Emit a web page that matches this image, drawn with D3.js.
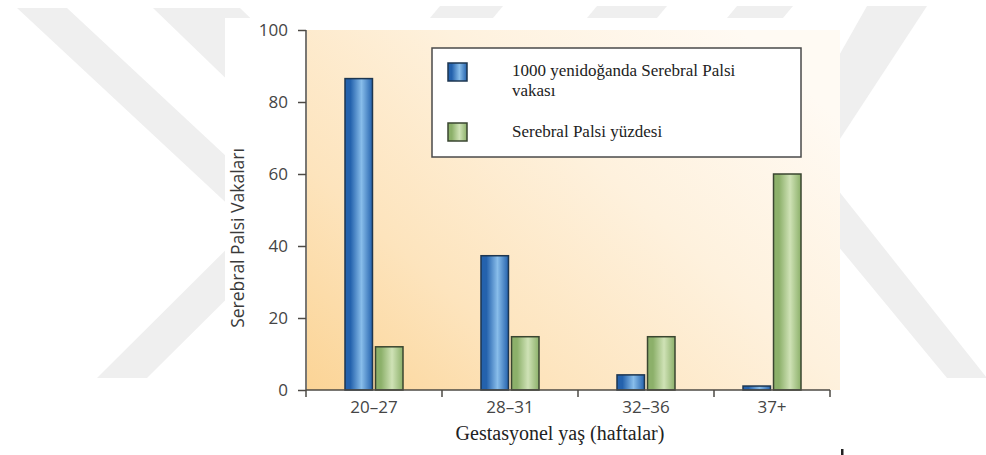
<!DOCTYPE html>
<html>
<head>
<meta charset="utf-8">
<script src="https://cdn.jsdelivr.net/npm/d3@7"></script>
<style>
  html, body { margin: 0; padding: 0; background: #fff; }
  svg { display: block; }
</style>
</head>
<body>
<svg id="chart" width="986" height="455"></svg>
<script>
// Gestational age groups and the two series shown per group
const categories = ["20\u201327", "28\u201331", "32\u201336", "37+"];
const seriesNames = ["1000 yenido\u011fanda Serebral Palsi vakas\u0131", "Serebral Palsi y\u00fczdesi"];
const casesPer1000 = [86.5, 37.3, 4.2, 1.1];
const percentCP = [12, 14.8, 14.8, 60];
const yTicks = [0, 20, 40, 60, 80, 100];
const yTitle = "Serebral Palsi Vakalar\u0131";
const xTitle = "Gestasyonel ya\u015f (haftalar)";

const svg = d3.select("#chart");
const defs = svg.append("defs");

// ---- faint background emblem ----
const wm = svg.append("g").attr("fill", "#efefef");
const wmShapes = [
  [[17, 8], [67, 8], [300, 225], [250, 225]],
  [[153, 8], [240, 8], [300, 66], [300, 150]],
  [[97, 378], [147, 378], [300, 226], [300, 176]],
  [[440, 6], [503, 6], [493, 18], [430, 18]],
  [[597, 6], [667, 6], [657, 18], [587, 18]],
  [[737, 6], [793, 6], [783, 18], [727, 18]],
  [[867, 6], [927, 6], [800, 200], [780, 160]],
  [[800, 200], [830, 180], [987, 378], [947, 378]]
];
wm.selectAll("polygon").data(wmShapes).join("polygon")
  .attr("points", d => d.map(p => p.join(",")).join(" "));

// white sheet behind the chart
svg.append("rect").attr("x", 225).attr("y", 18).attr("width", 615).attr("height", 437).attr("fill", "#fff");

// ---- scales ----
const plot = { left: 306, right: 850, axisEnd: 830, top: 30, bottom: 390 };
const x = d3.scaleBand().domain(categories).range([plot.left, plot.right]).paddingInner(0).paddingOuter(0);
const groupCenter = c => (x(c) + Math.min(x(c) + x.bandwidth(), plot.axisEnd)) / 2;
const xInner = d3.scaleBand().domain([0, 1]).range([-29, 29]).paddingInner(0.1);
const y = d3.scaleLinear().domain([0, 100]).range([plot.bottom, plot.top]);

// ---- panel background ----
const pg = defs.append("linearGradient").attr("id", "panelGrad")
  .attr("x1", 0).attr("y1", 1).attr("x2", 1).attr("y2", 0.25);
[[0, "#fbd496"], [0.3, "#fde4bd"], [0.65, "#fef1dd"], [1, "#fffaf3"]]
  .forEach(([o, c]) => pg.append("stop").attr("offset", o).attr("stop-color", c));
svg.append("rect")
  .attr("x", plot.left + 1).attr("y", plot.top)
  .attr("width", 840 - plot.left - 1).attr("height", plot.bottom - plot.top)
  .attr("fill", "url(#panelGrad)");

// ---- bar gradients ----
function barGradient(id, edge, mid) {
  const g = defs.append("linearGradient").attr("id", id).attr("x1", 0).attr("x2", 1).attr("y1", 0).attr("y2", 0);
  [[0, edge], [0.2, edge], [0.6, mid], [1, edge]]
    .forEach(([o, c]) => g.append("stop").attr("offset", o).attr("stop-color", c));
}
barGradient("blueGrad", "#2462ad", "#88bdea");
barGradient("greenGrad", "#8cb06a", "#cfe2b6");
const fills = ["url(#blueGrad)", "url(#greenGrad)"];
const strokes = ["#1d3650", "#3a4630"];

// ---- bars ----
const seriesValues = [casesPer1000, percentCP];
const barData = [];
categories.forEach((c, i) => seriesValues.forEach((vals, s) => barData.push({ c, s, v: vals[i] })));
svg.append("g").selectAll("rect").data(barData).join("rect")
  .attr("x", d => groupCenter(d.c) + xInner(d.s))
  .attr("width", xInner.bandwidth())
  .attr("y", d => y(d.v))
  .attr("height", d => y(0) - y(d.v))
  .attr("fill", d => fills[d.s])
  .attr("stroke", d => strokes[d.s])
  .attr("stroke-width", 1.5);

// ---- y axis ----
const axisColor = "#4d4a45";
const yAxis = svg.append("g").attr("transform", `translate(${plot.left},0)`)
  .call(d3.axisLeft(y).tickValues(yTicks).tickSize(8).tickSizeOuter(0).tickPadding(10));
yAxis.select(".domain").remove();
yAxis.selectAll(".tick line").attr("stroke", axisColor).attr("stroke-width", 1.5);
yAxis.selectAll(".tick text")
  .attr("font-family", "'Open Sans', sans-serif").attr("font-size", 17).attr("fill", "#454545");
svg.append("line").attr("x1", plot.left).attr("x2", plot.left)
  .attr("y1", plot.top).attr("y2", plot.bottom + 7)
  .attr("stroke", axisColor).attr("stroke-width", 1.5);

// ---- x axis ----
svg.append("line").attr("x1", plot.left).attr("x2", plot.axisEnd)
  .attr("y1", plot.bottom).attr("y2", plot.bottom)
  .attr("stroke", axisColor).attr("stroke-width", 1.5);
const sepX = categories.slice(1).map(c => x(c)).concat([plot.axisEnd]);
svg.append("g").selectAll("line").data(sepX).join("line")
  .attr("x1", d => d).attr("x2", d => d)
  .attr("y1", plot.bottom).attr("y2", plot.bottom + 7)
  .attr("stroke", axisColor).attr("stroke-width", 1.5);
svg.append("g").selectAll("text").data(categories).join("text")
  .attr("x", d => groupCenter(d)).attr("y", plot.bottom + 23)
  .attr("text-anchor", "middle")
  .attr("font-family", "'Open Sans', sans-serif").attr("font-size", 17).attr("fill", "#454545")
  .text(d => d);

// ---- axis titles ----
svg.append("text")
  .attr("transform", `translate(244,${(plot.top + plot.bottom) / 2 + 28}) rotate(-90)`)
  .attr("text-anchor", "middle")
  .attr("font-family", "'Open Sans', sans-serif").attr("font-size", 17.5).attr("fill", "#3a3a3a")
  .text(yTitle);
svg.append("text")
  .attr("x", 560).attr("y", 440)
  .attr("text-anchor", "middle")
  .attr("font-family", "'Liberation Serif', serif").attr("font-size", 20).attr("fill", "#222")
  .text(xTitle);

// ---- legend ----
const lg = svg.append("g");
lg.append("rect").attr("x", 432).attr("y", 48).attr("width", 369).attr("height", 109)
  .attr("fill", "#fff").attr("stroke", "#4a4a4a").attr("stroke-width", 1.5);
const legendRows = [
  { lines: ["1000 yenido\u011fanda Serebral Palsi", "vakas\u0131"], sy: 63, ty: 76 },
  { lines: ["Serebral Palsi y\u00fczdesi"], sy: 123, ty: 137 }
];
legendRows.forEach((r, i) => {
  lg.append("rect").attr("x", 448).attr("y", r.sy).attr("width", 19).attr("height", 18)
    .attr("fill", fills[i]).attr("stroke", strokes[i]).attr("stroke-width", 1.5);
  const t = lg.append("text").attr("x", 512).attr("y", r.ty)
    .attr("font-family", "'Liberation Serif', serif").attr("font-size", 17).attr("fill", "#222");
  r.lines.forEach((ln, k) => t.append("tspan").attr("x", 512).attr("dy", k ? 20 : 0).text(ln));
});

// small dark speck near the lower edge of the page
svg.append("rect").attr("x", 841).attr("y", 449).attr("width", 2.5).attr("height", 6).attr("fill", "#222");
</script>
</body>
</html>
